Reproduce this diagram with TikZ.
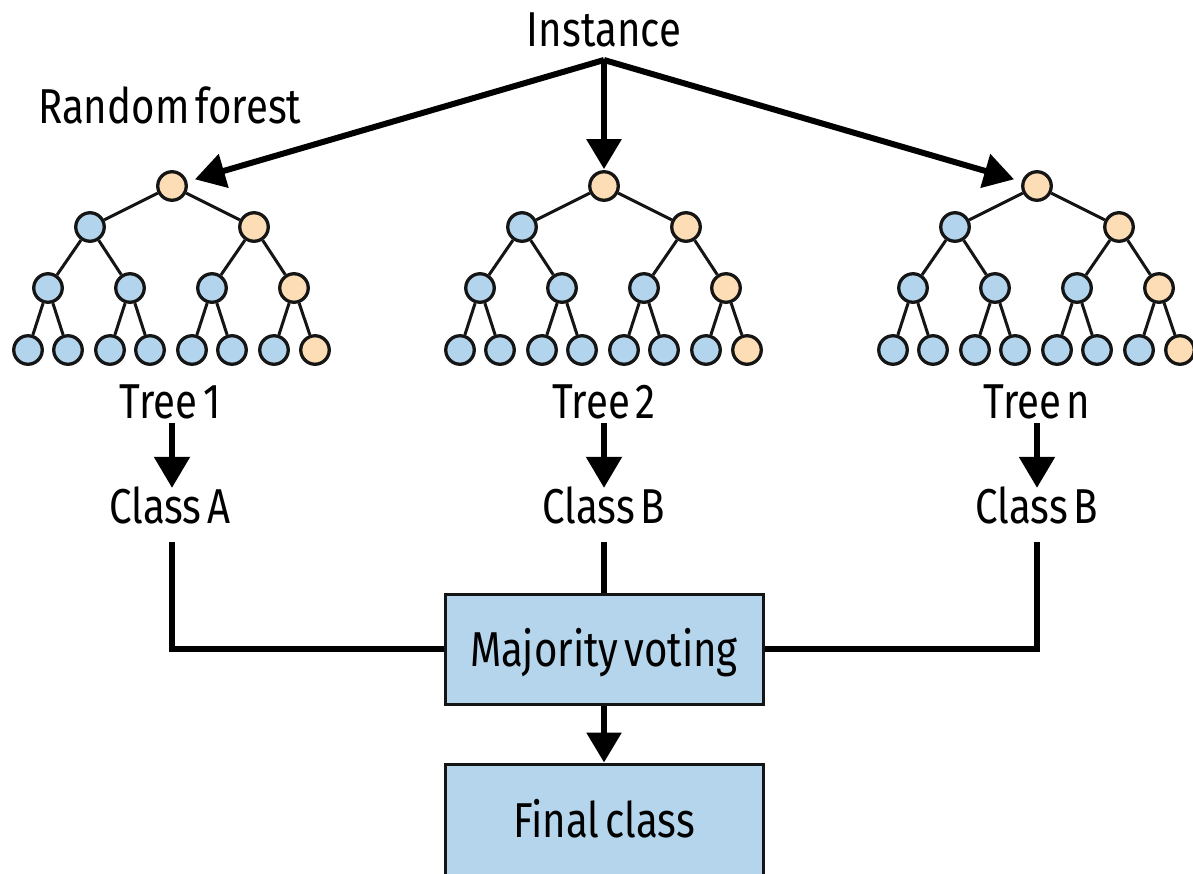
\documentclass[tikz,border=0pt]{standalone}
\usepackage{fontspec}
\setmainfont[FakeStretch=0.82,WordSpace=0.55]{Fira Sans}
\usetikzlibrary{arrows.meta}
\definecolor{nblue}{HTML}{B2D4EC}
\definecolor{norange}{HTML}{FDDDB6}
\definecolor{boxblue}{HTML}{B4D5EB}
\definecolor{ink}{HTML}{151515}
\tikzset{
  tn/.style={circle,draw=ink,line width=3.3pt,fill=nblue,minimum size=28.5pt,inner sep=0pt},
  tno/.style={tn,fill=norange},
  edgeline/.style={draw=ink,line width=3pt},
  bigarrow/.style={draw=black,line width=6pt,-{Triangle[length=30pt,width=34pt]}},
  midarrow/.style={draw=black,line width=5.5pt,-{Triangle[length=31pt,width=35pt]}},
  conn/.style={draw=black,line width=6pt},
  lab/.style={inner sep=0pt,text height=35pt,text depth=0pt,font=\fontsize{49}{58}\selectfont},
  boxnode/.style={draw=ink,line width=3pt,fill=boxblue,minimum width=318pt,minimum height=110pt,inner sep=0pt,text height=34pt,text depth=0pt,font=\fontsize{49}{58}\selectfont}
}
\newcommand\rftree[2]{%
  \begin{scope}[shift={(#2,0)}]
    \node[tno] (#1r) at (0,186) {};
    \node[tn]  (#1a) at (-82,227) {};
    \node[tno] (#1b) at (82,227) {};
    \node[tn]  (#1aa) at (-124,288) {};
    \node[tn]  (#1ab) at (-42,288) {};
    \node[tn]  (#1ba) at (40,288) {};
    \node[tno] (#1bb) at (122,288) {};
    \node[tn]  (#1aa1) at (-144,350) {};
    \node[tn]  (#1aa2) at (-104,350) {};
    \node[tn]  (#1ab1) at (-62,350) {};
    \node[tn]  (#1ab2) at (-22,350) {};
    \node[tn]  (#1ba1) at (20,350) {};
    \node[tn]  (#1ba2) at (60,350) {};
    \node[tn]  (#1bb1) at (102,350) {};
    \node[tno] (#1bb2) at (143,350) {};
    \draw[edgeline] (#1r) -- (#1a);
    \draw[edgeline] (#1r) -- (#1b);
    \draw[edgeline] (#1a) -- (#1aa);
    \draw[edgeline] (#1a) -- (#1ab);
    \draw[edgeline] (#1b) -- (#1ba);
    \draw[edgeline] (#1b) -- (#1bb);
    \draw[edgeline] (#1aa) -- (#1aa1);
    \draw[edgeline] (#1aa) -- (#1aa2);
    \draw[edgeline] (#1ab) -- (#1ab1);
    \draw[edgeline] (#1ab) -- (#1ab2);
    \draw[edgeline] (#1ba) -- (#1ba1);
    \draw[edgeline] (#1ba) -- (#1ba2);
    \draw[edgeline] (#1bb) -- (#1bb1);
    \draw[edgeline] (#1bb) -- (#1bb2);
  \end{scope}}
\begin{document}
\begin{tikzpicture}[x=1pt,y=-1pt]
  \useasboundingbox[fill=white] (0,0) rectangle (1193,873);
  % title
  \node[lab,anchor=base] (inst) at (604,46) {Instance};
  \coordinate (apex) at (604,60);
  \node[lab,anchor=base west] (rf) at (38,123) {Random forest};
  % trees
  \rftree{ta}{172}
  \rftree{tb}{604}
  \rftree{tc}{1037}
  % instance arrows
  \draw[bigarrow,shorten >=8pt] (apex) -- (tar);
  \draw[bigarrow,shorten >=1pt] (apex) -- (tbr);
  \draw[bigarrow,shorten >=8pt] (apex) -- (tcr);
  % tree labels
  \node[lab,anchor=base] (la) at (170,418) {Tree 1};
  \node[lab,anchor=base] (lb) at (604,418) {Tree 2};
  \node[lab,anchor=base] (lc) at (1037,418) {Tree n};
  % class labels
  \node[lab,anchor=base] (ca) at (170,523) {Class A};
  \node[lab,anchor=base] (cb) at (604,523) {Class B};
  \node[lab,anchor=base] (cc) at (1037,523) {Class B};
  \draw[midarrow] ([xshift=2pt,yshift=-5pt]la.south) -- ([xshift=2pt]ca.north);
  \draw[midarrow] ([yshift=-5pt]lb.south) -- (cb.north);
  \draw[midarrow] ([yshift=-5pt]lc.south) -- (cc.north);
  % boxes
  \node[boxnode] (mv) at (604,649) {Majority voting};
  \node[boxnode,minimum height=112pt] (fc) at (604,820) {Final class};
  % connectors
  \draw[conn] ([xshift=2pt,yshift=-19pt]ca.south) |- (mv.west);
  \draw[conn] ([yshift=-19pt]cb.south) -- (mv.north);
  \draw[conn] ([yshift=-19pt]cc.south) |- (mv.east);
  \draw[bigarrow] (mv.south) -- (fc.north);
\end{tikzpicture}
\end{document}
